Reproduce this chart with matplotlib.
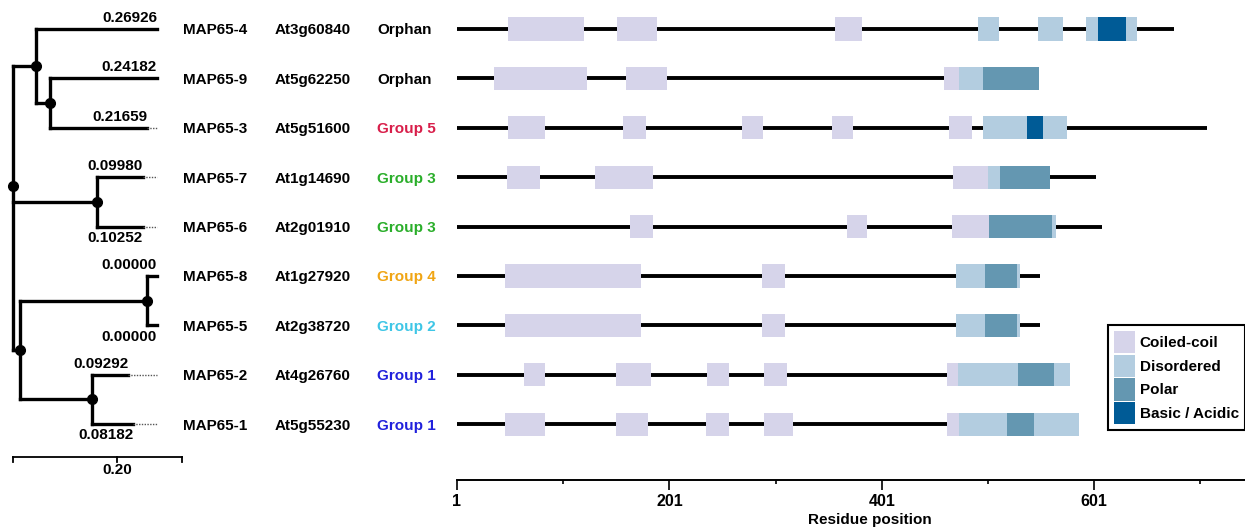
import matplotlib.pyplot as plt
from matplotlib.patches import Patch
from matplotlib.transforms import blended_transform_factory

plt.rcParams['font.family'] = ['Liberation Sans', 'DejaVu Sans']
plt.rcParams['font.weight'] = 'bold'
plt.rcParams['font.size'] = 11

# proteins, top to bottom
names = ['MAP65-4', 'MAP65-9', 'MAP65-3', 'MAP65-7', 'MAP65-6',
         'MAP65-8', 'MAP65-5', 'MAP65-2', 'MAP65-1']
loci = ['At3g60840', 'At5g62250', 'At5g51600', 'At1g14690', 'At2g01910',
        'At1g27920', 'At2g38720', 'At4g26760', 'At5g55230']
groups = ['Orphan', 'Orphan', 'Group 5', 'Group 3', 'Group 3',
          'Group 4', 'Group 2', 'Group 1', 'Group 1']
group_colors = {'Orphan': 'black', 'Group 1': '#2020dc', 'Group 2': '#3ec6e6',
                'Group 3': '#2aae2a', 'Group 4': '#f0a514', 'Group 5': '#d81e4a'}

lengths = [676, 549, 707, 603, 608, 550, 550, 578, 587]

coiled = [
    [(49, 121), (152, 189), (357, 382)],
    [(36, 123), (160, 199), (460, 474)],
    [(49, 84), (157, 179), (269, 289), (354, 374), (464, 486)],
    [(48, 79), (131, 186), (468, 501)],
    [(164, 186), (368, 387), (467, 502)],
    [(46, 174), (288, 310)],
    [(46, 174), (288, 310)],
    [(64, 84), (151, 184), (236, 257), (290, 312), (462, 473)],
    [(46, 84), (151, 181), (235, 257), (290, 317), (462, 474)],
]
disordered = [
    [(492, 511), (548, 572), (593, 641)],
    [(474, 549)],
    [(496, 575)],
    [(501, 512)],
    [(502, 565)],
    [(471, 531)],
    [(471, 531)],
    [(473, 578)],
    [(474, 587)],
]
polar = [
    [],
    [(496, 549)],
    [],
    [(512, 559)],
    [(502, 561)],
    [(498, 528)],
    [(498, 528)],
    [(529, 563)],
    [(519, 544)],
]
basic = [
    [(605, 631)],
    [],
    [(538, 553)],
    [], [], [], [], [], [],
]

# tree (x in branch-length units)
branch_labels = ['0.26926', '0.24182', '0.21659', '0.09980', '0.10252',
                 '0.00000', '0.00000', '0.09292', '0.08182']
label_above = [True, True, True, True, False, True, False, True, False]
tip_end = [0.320, 0.320, 0.298, 0.289, 0.289, 0.320, 0.320, 0.256, 0.267]
tip_x = 0.320
nodes = {
    'root': (0.0, ['A', 'B', 'C']),
    'A': (0.051, [0, 'A2']),
    'A2': (0.082, [1, 2]),
    'B': (0.187, [3, 4]),
    'C': (0.016, ['C1', 'C2']),
    'C1': (0.298, [5, 6]),
    'C2': (0.176, [7, 8]),
}
root_dot_row = 3.18
scale_bar = (0.0, 0.376)
scale_mid = 0.231
scale_label = '0.20'

W, H = 1245, 529
fig = plt.figure(figsize=(W / 100, H / 100), dpi=100)
ylim = (9.13, -0.587)

ax = fig.add_axes([440 / W, 49 / H, 805 / W, 480 / H])
ax_t = fig.add_axes([0, 49 / H, 200 / W, 480 / H])

# domain diagrams
rows = list(range(len(names)))
ax.hlines(rows, 1, lengths, color='black', lw=2.8, zorder=1)
bh = 0.47
for cat, col in [(coiled, '#d6d4ea'), (disordered, '#b3cde0'),
                 (polar, '#6497b1'), (basic, '#005b96')]:
    for i, segs in enumerate(cat):
        for s, e in segs:
            ax.barh(i, e - s, left=s, height=bh, color=col, lw=0, zorder=2)

ax.set_xlim(-15, 743)
ax.set_ylim(*ylim)
for sp in ['top', 'right', 'left']:
    ax.spines[sp].set_visible(False)
ax.spines['bottom'].set_bounds(1, 743)
ax.spines['bottom'].set_linewidth(1.4)
ax.set_yticks([])
ax.set_xticks([1, 201, 401, 601])
ax.set_xticks([101, 301, 501, 701], minor=True)
ax.tick_params(axis='x', which='major', length=7, width=1.2, pad=3, labelsize=11.5)
ax.tick_params(axis='x', which='minor', length=3, width=1.2)
ax.set_xlabel('Residue position', fontsize=11, fontweight='bold')
ax.xaxis.set_label_coords(0.534, -0.068)

# labels
tr = blended_transform_factory(fig.transFigure, ax.transData)
for i in rows:
    ax.text(183 / W, i, names[i], transform=tr, ha='left', va='center_baseline')
    ax.text(275 / W, i, loci[i], transform=tr, ha='left', va='center_baseline')
    ax.text(377 / W, i, groups[i], transform=tr, ha='left', va='center_baseline',
            color=group_colors[groups[i]])

# tree
tree_lw = 2.4


def draw(name):
    x, kids = nodes[name]
    ys = []
    for k in kids:
        if isinstance(k, int):
            y = k
            ax_t.plot([x, tip_end[k]], [y, y], color='black', lw=tree_lw,
                      solid_capstyle='projecting')
            if tip_end[k] < tip_x:
                ax_t.plot([tip_end[k], tip_x], [y, y], color='#555555', lw=1,
                          linestyle=(0, (1, 1)))
            off = 3 if label_above[k] else -3
            ax_t.annotate(branch_labels[k], (tip_end[k], y), xytext=(0, off),
                          textcoords='offset points', ha='right',
                          va='bottom' if label_above[k] else 'top')
        else:
            y = draw(k)
            ax_t.plot([x, nodes[k][0]], [y, y], color='black', lw=tree_lw,
                      solid_capstyle='projecting')
        ys.append(y)
    ax_t.plot([x, x], [min(ys), max(ys)], color='black', lw=tree_lw,
              solid_capstyle='projecting')
    yc = (min(ys) + max(ys)) / 2
    dot_y = root_dot_row if name == 'root' else yc
    ax_t.plot(x, dot_y, 'o', color='black', ms=7, zorder=5)
    return yc


draw('root')

sy = 8.66
ax_t.plot(scale_bar, [sy, sy], color='black', lw=1.3)
for sx in [scale_bar[0], scale_mid, scale_bar[1]]:
    ax_t.plot([sx, sx], [sy, sy + 0.1], color='black', lw=1.3)
ax_t.text(scale_mid, sy + 0.13, scale_label, ha='center', va='top')

ax_t.set_xlim(-13 / 450, 187 / 450)
ax_t.set_ylim(*ylim)
ax_t.axis('off')

# legend
handles = [Patch(color=c, lw=0) for c in ['#d6d4ea', '#b3cde0', '#6497b1', '#005b96']]
leg = fig.legend(handles, ['Coiled-coil', 'Disordered', 'Polar', 'Basic / Acidic'],
                 loc='upper right', bbox_to_anchor=(1, 1 - 325 / H),
                 bbox_transform=fig.transFigure, borderaxespad=0,
                 fancybox=False, edgecolor='black', framealpha=1,
                 handlelength=1.4, handleheight=1.85, handletextpad=0.3,
                 labelspacing=0.1, borderpad=0.4,
                 prop={'weight': 'bold', 'size': 11})
leg.get_frame().set_linewidth(1.5)

fig.savefig('out.png', dpi=100)
